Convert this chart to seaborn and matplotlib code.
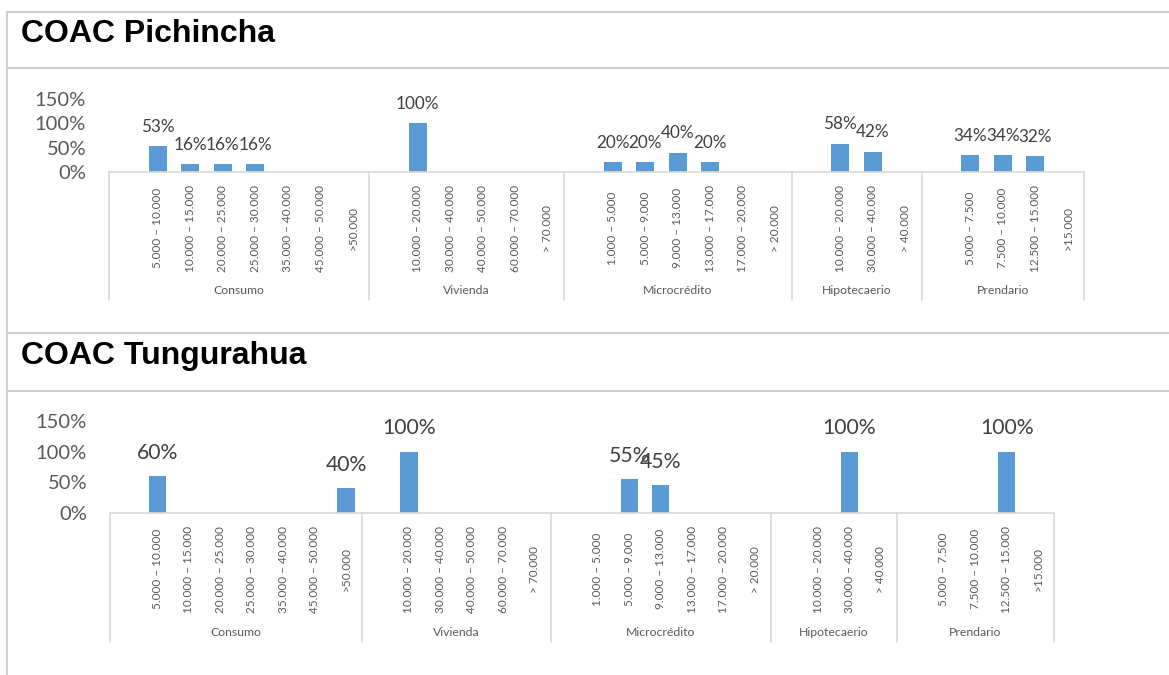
import matplotlib
matplotlib.use("Agg")
import matplotlib.pyplot as plt
from matplotlib.ticker import PercentFormatter
import pandas as pd
import seaborn as sns

# --- datos -------------------------------------------------------------
tipos = ["Consumo", "Vivienda", "Microcrédito", "Hipotecaerio", "Prendario"]

consumo_rangos = ["5.000 – 10.000", "10.000 – 15.000", "20.000 – 25.000", "25.000 – 30.000",
                  "35.000 – 40.000", "45.000 – 50.000", ">50.000"]
vivienda_rangos = ["10.000 – 20.000", "30.000 – 40.000", "40.000 – 50.000", "60.000 – 70.000", "> 70.000"]
micro_rangos = ["1.000 – 5.000", "5.000 – 9.000", "9.000 – 13.000", "13.000 – 17.000",
                "17.000 – 20.000", "> 20.000"]
hipotecario_rangos = ["10.000 – 20.000", "30.000 – 40.000", "> 40.000"]
prendario_rangos = ["5.000 – 7.500", "7.500 – 10.000", "12.500 – 15.000", ">15.000"]

pichincha_consumo = [53, 16, 16, 16, None, None, None]
pichincha_vivienda = [100, None, None, None, None]
pichincha_micro = [20, 20, 40, 20, None, None]
pichincha_hipotecario = [58, 42, None]
pichincha_prendario = [34, 34, 32, None]

tungurahua_consumo = [60, None, None, None, None, None, 40]
tungurahua_vivienda = [100, None, None, None, None]
tungurahua_micro = [None, 55, 45, None, None, None]
tungurahua_hipotecario = [None, 100, None]
tungurahua_prendario = [None, None, 100, None]

rangos = [consumo_rangos, vivienda_rangos, micro_rangos, hipotecario_rangos, prendario_rangos]
pichincha = [pichincha_consumo, pichincha_vivienda, pichincha_micro, pichincha_hipotecario, pichincha_prendario]
tungurahua = [tungurahua_consumo, tungurahua_vivienda, tungurahua_micro, tungurahua_hipotecario,
              tungurahua_prendario]

AZUL = "#5B9BD5"
GRIS_TXT = "#595959"
GRIS_LIN = "#D9D9D9"
W, H = 1169, 675

sns.set_theme(style="white")
plt.rcParams["font.family"] = ["Lato", "DejaVu Sans"]


def armar_tabla(valores):
    # una casilla vacía al inicio de cada grupo, como en el gráfico original
    orden, etiquetas, filas, limites = [], [], [], [-0.5]
    for tipo, rs, vs in zip(tipos, rangos, valores):
        orden.append(tipo + "|")
        etiquetas.append("")
        for r, v in zip(rs, vs):
            clave = tipo + "|" + r
            orden.append(clave)
            etiquetas.append(r)
            if v is not None:
                filas.append({"clave": clave, "valor": v})
        limites.append(len(orden) - 0.5)
    return pd.DataFrame(filas), orden, etiquetas, limites


def dibujar(fig, valores, izq, der, y0, y150, f_lab, pad_lab, y_grupo, y_sep):
    ax = fig.add_axes([izq / W, 1 - y0 / H, (der - izq) / W, (y0 - y150) / H])
    alto = y0 - y150
    df, orden, etiquetas, limites = armar_tabla(valores)
    sns.barplot(data=df, x="clave", y="valor", order=orden, color=AZUL, saturation=1,
                width=0.55, errorbar=None, linewidth=0, ax=ax)
    ax.bar_label(ax.containers[0], fmt="%g%%", padding=pad_lab, fontsize=f_lab, color="#404040")

    ax.set_xlim(-0.5, len(orden) - 0.5)
    ax.set_ylim(0, 150)
    ax.set_yticks([0, 50, 100, 150])
    ax.yaxis.set_major_formatter(PercentFormatter(100, decimals=0))
    ax.tick_params(axis="y", length=0, pad=16.5, labelsize=14.5, labelcolor=GRIS_TXT)
    ax.set_xticks(range(len(orden)))
    ax.set_xticklabels(etiquetas, rotation=90, va="center", fontsize=8.5, color=GRIS_TXT)
    ax.tick_params(axis="x", length=0, pad=40.5)
    ax.set_xlabel("")
    ax.set_ylabel("")
    for s in ["left", "top", "right"]:
        ax.spines[s].set_visible(False)
    ax.spines["bottom"].set_color(GRIS_LIN)
    ax.spines["bottom"].set_linewidth(1.2)
    ax.grid(False)

    tr = ax.get_xaxis_transform()
    for x in limites:
        ax.plot([x, x], [0, -(y_sep - y0) / alto], color=GRIS_LIN, lw=1.2, transform=tr, clip_on=False)
    for tipo, a, b in zip(tipos, limites[:-1], limites[1:]):
        ax.text((a + b) / 2, -(y_grupo - y0) / alto, tipo, transform=tr, ha="center", va="center",
                fontsize=8.8, color=GRIS_TXT)
    return ax


fig = plt.figure(figsize=(W / 100, H / 100), dpi=100)

# marcos de los dos paneles
bg = fig.add_axes([0, 0, 1, 1])
bg.set_xlim(0, W)
bg.set_ylim(H, 0)
bg.axis("off")
for y in [12, 68, 332.5, 391]:
    bg.plot([7, W], [y, y], color="#D0D0D0", lw=1.5)
bg.plot([7, 7], [12, H], color="#D0D0D0", lw=1.5)
bg.text(21, 42, "COAC Pichincha", fontsize=23, fontweight="bold", family="Liberation Sans",
        va="baseline", color="black")
bg.text(21, 364, "COAC Tungurahua", fontsize=23, fontweight="bold", family="Liberation Sans",
        va="baseline", color="black")

dibujar(fig, pichincha, 109, 1084, 172, 99, 12.3, 8.2, 290, 300)
dibujar(fig, tungurahua, 110, 1054, 513, 421, 15.2, 9.5, 632, 642)

fig.savefig("out.png", dpi=100)
